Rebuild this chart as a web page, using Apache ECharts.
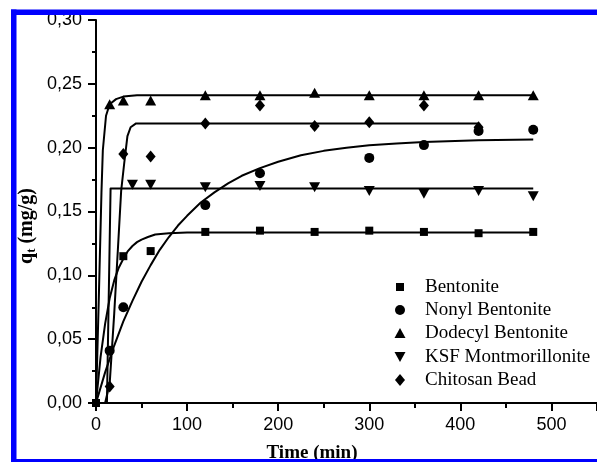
<!DOCTYPE html>
<html>
<head>
<meta charset="utf-8">
<script src="https://cdn.jsdelivr.net/npm/echarts@6/dist/echarts.min.js"></script>
<style>
html,body{margin:0;padding:0;background:#fff;}
#chart{width:597px;height:462px;}
</style>
</head>
<body>
<div id="chart"></div>
<script>
// Observed data points [time (min), q_t (mg/g)]
const bentoniteObs = [[0,0],[30,0.115],[60,0.119],[120,0.134],[180,0.135],[240,0.134],[300,0.135],[360,0.134],[420,0.133],[480,0.134]];
const nonylObs = [[15,0.041],[30,0.075],[120,0.155],[180,0.180],[300,0.192],[360,0.202],[420,0.213],[480,0.214]];
const dodecylObs = [[15,0.234],[30,0.237],[60,0.237],[120,0.241],[180,0.241],[240,0.243],[300,0.241],[360,0.241],[420,0.241],[480,0.241]];
const ksfObs = [[40,0.171],[60,0.171],[120,0.169],[180,0.170],[240,0.169],[300,0.166],[360,0.164],[420,0.166],[480,0.162]];
const chitosanObs = [[15,0.013],[30,0.195],[60,0.193],[120,0.219],[180,0.233],[240,0.217],[300,0.220],[360,0.233],[420,0.216]];

// Fitted curves
const bentoniteFit = [[0,0],[5,0.036],[10,0.062],[15,0.082],[20,0.096],[25,0.106],[30,0.113],[35,0.119],[40,0.123],[45,0.126],[50,0.128],[57,0.130],[65,0.132],[80,0.133],[100,0.1335],[480,0.1335]];
const nonylFit = [[0,0],[10,0.024],[20,0.045],[30,0.064],[40,0.080],[50,0.095],[60,0.108],[70,0.120],[80,0.130],[90,0.139],[100,0.1466],[115,0.157],[130,0.165],[145,0.172],[160,0.178],[180,0.184],[200,0.189],[225,0.194],[250,0.1975],[275,0.200],[300,0.2018],[330,0.2033],[360,0.2045],[420,0.2058],[480,0.2064]];
const dodecylFit = [[0,0],[3,0.08],[6,0.165],[7.5,0.198],[11,0.225],[15,0.234],[22,0.238],[30,0.240],[45,0.241],[480,0.241]];
const ksfFit = [[12,0],[16,0.168],[480,0.168]];
const chitosanFit = [[10,0],[15,0.015],[20,0.07],[24,0.12],[27.6,0.166],[31,0.188],[34.5,0.209],[38,0.216],[44,0.219],[420,0.219]];

const seriesNames = ['Bentonite','Nonyl Bentonite','Dodecyl Bentonite','KSF Montmorillonite','Chitosan Bead'];
const xTicks = [0,100,200,300,400,500];
const yTicks = [0,0.05,0.10,0.15,0.20,0.25,0.30];

const downTri = 'path://M0,0L10,0L5,9Z';
const symbols = ['rect','circle','triangle',downTri,'diamond'];
const symSizes = [8,10,[11,10],[11,10],[10,12]];
const legendRowY = [287,310,333,357,380];
const legendW = [8,10,11,11,10];
const legendH = [8,10,10,10,12];

const obs = [bentoniteObs,nonylObs,dodecylObs,ksfObs,chitosanObs];
const fits = [bentoniteFit,nonylFit,dodecylFit,ksfFit,chitosanFit];

const series = [];
fits.forEach((f,i)=>{
  series.push({
    name: seriesNames[i]+' fit', type:'line', data:f, showSymbol:false, symbol:'none',
    lineStyle:{color:'#000',width:2,join:'round'}, z:2, silent:true, clip:false
  });
});
obs.forEach((o,i)=>{
  series.push({
    name: seriesNames[i], type:'scatter', data:o, symbol:symbols[i], symbolSize:symSizes[i],
    itemStyle:{color:'#000',opacity:1}, z:5, clip:false
  });
});

const legends = seriesNames.map((n,i)=>({
  data:[{name:n, icon:symbols[i]}],
  orient:'vertical',
  left: 400 - legendW[i]/2,
  top: legendRowY[i] - 11,
  padding:0,
  itemWidth: legendW[i],
  itemHeight: legendH[i],
  selectedMode:false,
  itemStyle:{color:'#000',opacity:1},
  textStyle:{fontFamily:'Liberation Serif',fontSize:19,color:'#000',lineHeight:22,padding:[0,0,0,20-legendW[i]/2]}
}));

const chart = echarts.init(document.getElementById('chart'), null, {renderer:'canvas'});
chart.setOption({
  animation:false,
  backgroundColor:'#fff',
  grid:{left:96, top:20, right:-10, bottom:59, containLabel:false},
  xAxis:{
    type:'value', min:0, max:550, interval:100,
    axisLine:{show:true,lineStyle:{color:'#000',width:2}},
    axisTick:{show:true,length:8,lineStyle:{color:'#000',width:2}},
    minorTick:{show:true,splitNumber:2,length:5,lineStyle:{color:'#000',width:2}},
    splitLine:{show:false},
    axisLabel:{showMaxLabel:false,margin:13,color:'#000',fontFamily:'Liberation Sans',fontSize:18,
      formatter:v=> xTicks.includes(v) ? String(v) : ''}
  },
  yAxis:{
    type:'value', min:0, max:0.30, interval:0.05,
    axisLine:{show:true,lineStyle:{color:'#000',width:2}},
    axisTick:{show:true,length:8,lineStyle:{color:'#000',width:2}},
    minorTick:{show:true,splitNumber:2,length:4,lineStyle:{color:'#000',width:2}},
    splitLine:{show:false},
    axisLabel:{margin:14,color:'#000',fontFamily:'Liberation Sans',fontSize:18,
      formatter:v=>{ const t = yTicks.find(k=>Math.abs(k-v)<1e-9); return t===undefined ? '' : t.toFixed(2).replace('.',','); }}
  },
  legend: legends,
  series: series,
  graphic:[
    {type:'text', x:312, y:444, z:50,
      style:{text:'Time (min)', font:'bold 19px "Liberation Serif"', fill:'#000', align:'center', verticalAlign:'top'}},
    {type:'text', x:27, y:226, rotation:Math.PI/2, z:50,
      style:{text:'{a|q}{b|t}{a| (mg/g)}', align:'center', verticalAlign:'middle', fill:'#000',
        rich:{
          a:{fontFamily:'Liberation Serif',fontWeight:'bold',fontSize:20,fill:'#000'},
          b:{fontFamily:'Liberation Serif',fontWeight:'bold',fontSize:13,fill:'#000',padding:[10,0,0,0]}
        }}},
    {type:'rect', z:100, shape:{x:11,y:9.5,width:586,height:5.5}, style:{fill:'#0000fe'}},
    {type:'rect', z:100, shape:{x:11,y:9.5,width:5.5,height:452.5}, style:{fill:'#0000fe'}},
    {type:'rect', z:100, shape:{x:11,y:459,width:586,height:3}, style:{fill:'#0000fe'}}
  ]
});
</script>
</body>
</html>
